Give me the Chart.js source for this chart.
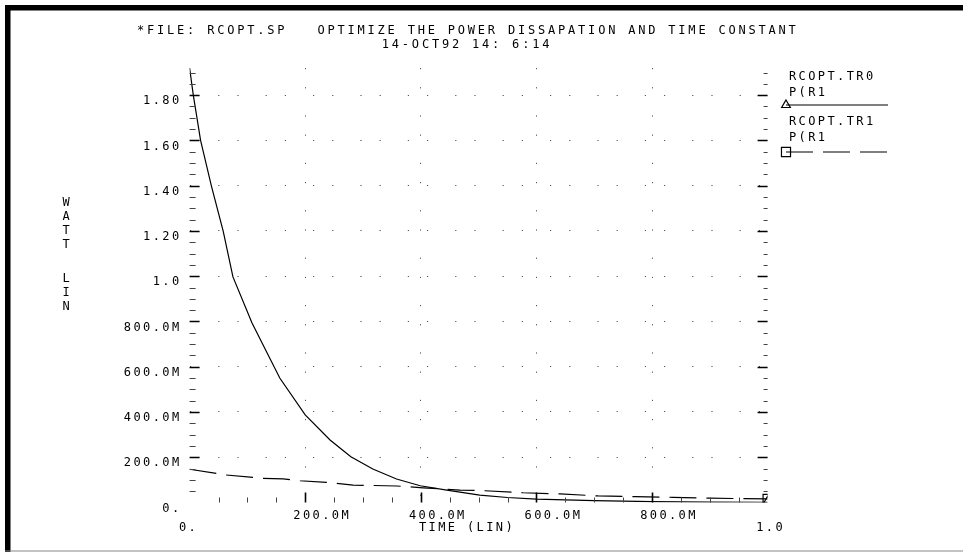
<!DOCTYPE html>
<html>
<head>
<meta charset="utf-8">
<script src="https://cdn.jsdelivr.net/npm/chart.js@4.4.1/dist/chart.umd.min.js"></script>
<style>
html,body{margin:0;padding:0;background:#fff;}
#wrap{position:relative;width:963px;height:553px;}
canvas{display:block;}
</style>
</head>
<body>
<div id="wrap"><canvas id="c" width="963" height="553"></canvas></div>
<script>
// ---- data ----
const titleLine1 = "*FILE: RCOPT.SP   OPTIMIZE THE POWER DISSAPATION AND TIME CONSTANT";
const titleLine2 = "14-OCT92 14: 6:14";
const yAxisTitle = ["W","A","T","T","L","I","N"];
const xAxisTitle = "TIME (LIN)";

const yTickValues = [0, 0.2, 0.4, 0.6, 0.8, 1.0, 1.2, 1.4, 1.6, 1.8];
const yTickLabels = ["0.", "200.0M", "400.0M", "600.0M", "800.0M", "1.0", "1.20", "1.40", "1.60", "1.80"];
const xTickValues = [0, 0.2, 0.4, 0.6, 0.8, 1.0];
const xTickLabels = ["0.", "200.0M", "400.0M", "600.0M", "800.0M", "1.0"];

// RCOPT.TR0  P(R1  (solid)
const timeTr0 = [0, 0.0064, 0.019, 0.038, 0.058, 0.075, 0.108, 0.156, 0.2, 0.243, 0.279, 0.317, 0.358, 0.399, 0.445, 0.502, 0.55, 0.6, 0.7, 0.8, 0.9, 1.0];
const powerTr0 = [1.92, 1.80, 1.60, 1.396, 1.20, 0.997, 0.793, 0.550, 0.387, 0.276, 0.202, 0.148, 0.104, 0.074, 0.055, 0.033, 0.022, 0.015, 0.008, 0.004, 0.002, 0.001];

// RCOPT.TR1  P(R1  (dashed)
const timeTr1 = [0, 0.063, 0.127, 0.162, 0.191, 0.237, 0.283, 0.358, 0.404, 0.468, 0.511, 0.577, 0.641, 0.707, 0.771, 0.836, 0.9, 1.0];
const powerTr1 = [0.147, 0.1215, 0.107, 0.104, 0.096, 0.089, 0.077, 0.073, 0.065, 0.055, 0.052, 0.043, 0.038, 0.029, 0.026, 0.023, 0.019, 0.016];

const legendNames = [["RCOPT.TR0", "P(R1"], ["RCOPT.TR1", "P(R1"]];

// ---- styling ----
const FONT = "'DejaVu Sans Mono', monospace";
const DOTS = [1.2, 18, 1.2, 27];
const Y_TITLE_ROWS = [203, 217, 231, 245, 279, 293, 307];

function lastOnly(r) { return (c) => (c.dataIndex === c.dataset.data.length - 1 ? r : 0); }

const framePlugin = {
  id: 'frame',
  beforeDraw(chart) {
    const ctx = chart.ctx;
    ctx.save();
    ctx.fillStyle = '#fff';
    ctx.fillRect(0, 0, chart.width, chart.height);
    ctx.restore();
    ctx.letterSpacing = '2.4px';
  },
  afterDraw(chart) {
    const ctx = chart.ctx;
    const xs = chart.scales.x, ys = chart.scales.y;
    const x0 = xs.getPixelForValue(0), x1 = xs.getPixelForValue(1);
    const y0 = ys.getPixelForValue(0);
    ctx.save();
    // frame
    ctx.fillStyle = '#000';
    ctx.fillRect(5, 5, 958, 5.5);
    ctx.fillRect(5, 5, 5.5, 547);
    ctx.fillStyle = '#888';
    ctx.fillRect(5, 550.5, 958, 1);

    // axis tick marks
    for (let k = 1; k <= 38; k++) {
      const v = k * 0.05;
      const py = Math.round(ys.getPixelForValue(v)) + 0.5;
      const major = k % 4 === 0;
      ctx.lineWidth = major ? 1.6 : 1;
      ctx.strokeStyle = major ? '#000' : '#444';
      ctx.beginPath();
      ctx.moveTo(x0, py); ctx.lineTo(x0 + (major ? 10 : 6), py);
      ctx.moveTo(x1, py); ctx.lineTo(x1 - (major ? 10 : 4), py);
      ctx.stroke();
    }
    for (let k = 1; k < 20; k++) {
      const v = k * 0.05;
      const px = Math.round(xs.getPixelForValue(v)) + 0.5;
      const major = k % 4 === 0;
      ctx.lineWidth = major ? 1.6 : 1;
      ctx.strokeStyle = major ? '#000' : '#444';
      ctx.beginPath();
      ctx.moveTo(px, y0); ctx.lineTo(px, y0 - (major ? 10 : 5));
      ctx.stroke();
    }

    // texts
    ctx.fillStyle = '#000';
    ctx.textBaseline = 'middle';
    ctx.font = '12px ' + FONT;
    ctx.letterSpacing = '2.8px';
    ctx.textAlign = 'left';
    ctx.fillText(titleLine1, 137, 31);
    ctx.textAlign = 'center';
    ctx.fillText(titleLine2, 467, 45);

    ctx.letterSpacing = '2.4px';
    // end labels of x axis and x title
    ctx.textAlign = 'center';
    ctx.fillText(xTickLabels[0], xs.getPixelForValue(xTickValues[0]) - 1, 528);
    ctx.fillText(xTickLabels[xTickLabels.length - 1], xs.getPixelForValue(xTickValues[xTickValues.length - 1]) + 3, 528);
    ctx.fillText(xAxisTitle, 467, 528);

    // y axis title, stacked letters
    ctx.letterSpacing = '0px';
    yAxisTitle.forEach((ch, i) => { ctx.fillText(ch, 66, Y_TITLE_ROWS[i]); });

    // legend
    ctx.letterSpacing = '2.4px';
    ctx.textAlign = 'left';
    const lx = 786, lx2 = 888;
    const rows = [77, 122];
    chart.data.datasets.forEach((ds, i) => {
      const ty = rows[i];
      ctx.fillStyle = '#000';
      ctx.fillText(legendNames[i][0], 789, ty);
      ctx.fillText(legendNames[i][1], 789, ty + 16);
      const ly = ty + 28 + i * 2;
      ctx.save();
      ctx.strokeStyle = ds.borderColor;
      ctx.lineWidth = ds.borderWidth;
      ctx.setLineDash(ds.borderDash || []);
      ctx.beginPath();
      ctx.moveTo(lx, ly); ctx.lineTo(lx2, ly);
      ctx.stroke();
      ctx.restore();
      ctx.save();
      ctx.fillStyle = 'rgba(255,255,255,0)';
      ctx.strokeStyle = '#000';
      ctx.lineWidth = 1.2;
      ctx.setLineDash([]);
      Chart.helpers.drawPoint(ctx, {
        pointStyle: ds.pointStyle, radius: ds.legendRadius, rotation: 0, borderWidth: 1.2
      }, lx, ly);
      ctx.restore();
    });
    ctx.restore();
  }
};

const ctx = document.getElementById('c').getContext('2d');
const chart = new Chart(ctx, {
  type: 'line',
  data: {
    datasets: [
      {
        label: legendNames[0].join(' '),
        data: timeTr0.map((t, i) => ({ x: t, y: powerTr0[i] })),
        borderColor: '#000', borderWidth: 1.2, tension: 0, fill: false,
        pointStyle: 'triangle', pointRadius: lastOnly(6), legendRadius: 5,
        pointBorderColor: '#000', pointBackgroundColor: 'rgba(255,255,255,0)', pointBorderWidth: 1.2
      },
      {
        label: legendNames[1].join(' '),
        data: timeTr1.map((t, i) => ({ x: t, y: powerTr1[i] })),
        borderColor: '#000', borderWidth: 1.2, tension: 0, fill: false, borderDash: [27, 10],
        pointStyle: 'rect', pointRadius: lastOnly(6.4), legendRadius: 6.4,
        pointBorderColor: '#000', pointBackgroundColor: 'rgba(255,255,255,0)', pointBorderWidth: 1.2
      }
    ]
  },
  options: {
    responsive: false, animation: false, devicePixelRatio: 1,
    layout: { padding: { left: 90, right: 195.4, top: 68, bottom: 0 } },
    plugins: { legend: { display: false }, tooltip: { enabled: false }, title: { display: false } },
    scales: {
      x: {
        type: 'linear', min: 0, max: 1,
        afterFit: (s) => { s.height = 50.5; },
        border: { display: false, dash: DOTS },
        grid: {
          drawTicks: false, lineWidth: 1,
          color: (c) => (c.tick && c.tick.value > 0.01 && c.tick.value < 0.99 ? '#555' : 'rgba(0,0,0,0)')
        },
        ticks: {
          stepSize: 0.2, autoSkip: false, maxRotation: 0, includeBounds: false,
          padding: 6, labelOffset: 17, color: '#000', font: { family: FONT, size: 12 },
          callback: (v) => {
            const i = xTickValues.findIndex((t) => Math.abs(t - v) < 1e-6);
            if (i <= 0 || i === xTickValues.length - 1) return '';
            return xTickLabels[i];
          }
        }
      },
      y: {
        type: 'linear', min: 0, max: 1.92,
        afterFit: (s) => { s.width = 99.6; },
        border: { display: false, dash: [1.2, 27, 1.2, 18] },
        grid: {
          drawTicks: false, lineWidth: 1,
          color: (c) => (c.tick && c.tick.value > 0.01 ? '#555' : 'rgba(0,0,0,0)')
        },
        ticks: {
          stepSize: 0.2, autoSkip: false, includeBounds: false,
          padding: 8, labelOffset: 6, color: '#000', font: { family: FONT, size: 12 },
          callback: (v) => {
            const i = yTickValues.findIndex((t) => Math.abs(t - v) < 1e-6);
            return i < 0 ? '' : yTickLabels[i];
          }
        }
      }
    }
  },
  plugins: [framePlugin]
});
</script>
</body>
</html>
